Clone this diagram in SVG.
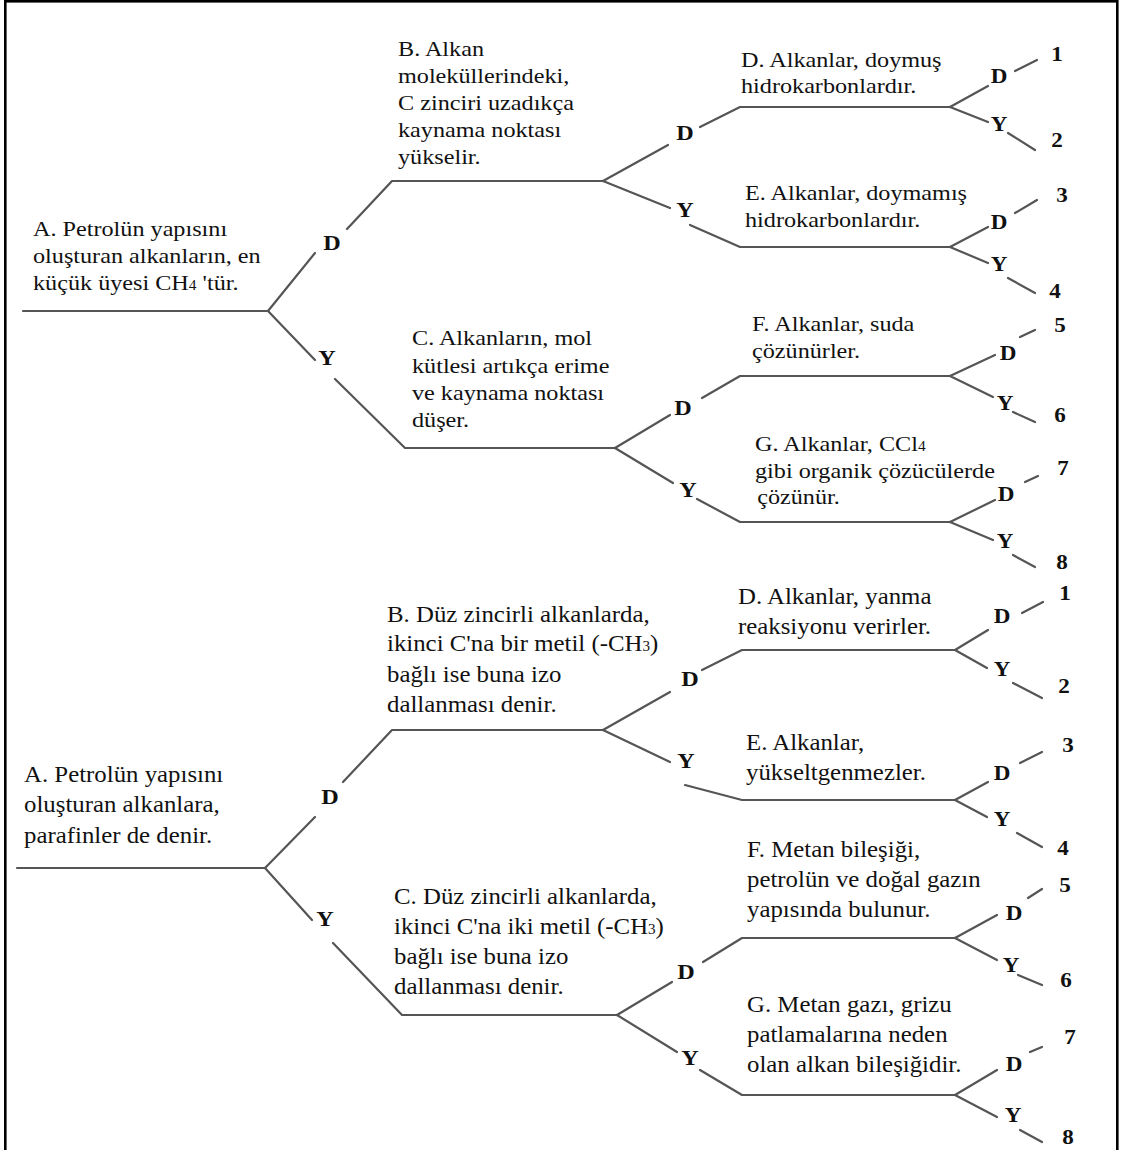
<svg xmlns="http://www.w3.org/2000/svg" width="1121" height="1150" viewBox="0 0 1121 1150">
  <style>
    .frame { fill: none; stroke: #000; stroke-width: 2.6; }
    .ln { fill: none; stroke: #555; stroke-width: 2.2; stroke-linecap: round; stroke-linejoin: round; }
    .t { font-family: "Liberation Serif", "Times New Roman", serif; font-size: 22px; fill: #111; }
    .tb { font-family: "Liberation Serif", "Times New Roman", serif; font-size: 23px; fill: #111; }
    .sub { font-size: 14px; }
    .lb { font-family: "Liberation Serif", "Times New Roman", serif; font-size: 22px; font-weight: bold; fill: #111; text-anchor: middle; }
  </style>

  <rect class="frame" x="5.3" y="1.3" width="1112" height="1170"/>

  <!-- connectors -->
  <g id="connectors" class="ln">
    <!-- upper tree -->
    <path d="M23 311 H268"/>
    <path d="M268 311 L315 253 M347 229 L392 181 H603"/>
    <path d="M268 311 L315 360 M335 379 L405 448 H615"/>
    <path d="M603 181 L668 145 M700 127 L740 107 H950"/>
    <path d="M603 181 L670 208 M690 225 L740 247 H950"/>
    <path d="M615 448 L670 415 M702 398 L740 376 H950"/>
    <path d="M615 448 L673 483 M697 499 L740 522 H950"/>
    <path d="M950 107 L988 86 M1015 71 L1037 60 M950 107 L988 122 M1008 133 L1035 150"/>
    <path d="M950 247 L988 227 M1015 213 L1037 200 M950 247 L988 263 M1008 278 L1035 293"/>
    <path d="M950 376 L995 355 M1020 337 L1035 330 M950 376 L993 397 M1013 412 L1035 422"/>
    <path d="M950 522 L995 500 M1025 482 L1038 476 M950 522 L993 540 M1013 555 L1035 567"/>
    <!-- lower tree -->
    <path d="M17 868 H265"/>
    <path d="M265 868 L315 817 M343 782 L392 730 H603"/>
    <path d="M265 868 L312 920 M333 943 L402 1015 H617"/>
    <path d="M603 730 L670 692 M702 670 L742 650 H955"/>
    <path d="M603 730 L670 762 M685 785 L742 800 H955"/>
    <path d="M617 1015 L672 982 M703 962 L742 938 H955"/>
    <path d="M617 1015 L677 1052 M700 1070 L742 1095 H955"/>
    <path d="M955 650 L988 630 M1022 613 L1043 602 M955 650 L987 668 M1013 683 L1042 698"/>
    <path d="M955 800 L988 782 M1020 763 L1042 752 M955 800 L987 817 M1017 833 L1042 847"/>
    <path d="M955 938 L997 915 M1028 898 L1042 889 M955 938 L997 960 M1018 975 L1042 985"/>
    <path d="M955 1095 L997 1070 M1030 1052 L1042 1047 M955 1095 L997 1117 M1020 1130 L1042 1142"/>
  </g>

  <!-- upper tree statements -->
  <g id="u-A" transform="translate(33 0) scale(1.1 1)">
    <text class="t"><tspan x="0" y="236">A. Petrolün yapısını</tspan><tspan x="0" y="263">oluşturan alkanların, en</tspan><tspan x="0" y="290">küçük üyesi CH<tspan class="sub">4</tspan> 'tür.</tspan></text>
  </g>
  <g id="u-B" transform="translate(398 0) scale(1.1 1)">
    <text class="t"><tspan x="0" y="56">B. Alkan</tspan><tspan x="0" y="83">moleküllerindeki,</tspan><tspan x="0" y="110">C zinciri uzadıkça</tspan><tspan x="0" y="137">kaynama noktası</tspan><tspan x="0" y="164">yükselir.</tspan></text>
  </g>
  <g id="u-C" transform="translate(412 0) scale(1.1 1)">
    <text class="t"><tspan x="0" y="345">C. Alkanların, mol</tspan><tspan x="0" y="373">kütlesi artıkça erime</tspan><tspan x="0" y="400">ve kaynama noktası</tspan><tspan x="0" y="427">düşer.</tspan></text>
  </g>
  <g id="u-D" transform="translate(741 0) scale(1.1 1)">
    <text class="t"><tspan x="0" y="67">D. Alkanlar, doymuş</tspan><tspan x="0" y="93">hidrokarbonlardır.</tspan></text>
  </g>
  <g id="u-E" transform="translate(745 0) scale(1.1 1)">
    <text class="t"><tspan x="0" y="200">E. Alkanlar, doymamış</tspan><tspan x="0" y="227">hidrokarbonlardır.</tspan></text>
  </g>
  <g id="u-F" transform="translate(752 0) scale(1.1 1)">
    <text class="t"><tspan x="0" y="331">F. Alkanlar, suda</tspan><tspan x="0" y="358">çözünürler.</tspan></text>
  </g>
  <g id="u-G" transform="translate(755 0) scale(1.1 1)">
    <text class="t"><tspan x="0" y="451">G. Alkanlar, CCl<tspan class="sub">4</tspan></tspan><tspan x="0" y="478">gibi organik çözücülerde</tspan><tspan x="2" y="504">çözünür.</tspan></text>
  </g>

  <!-- lower tree statements -->
  <g id="l-A" transform="translate(24 0) scale(1.08 1)">
    <text class="tb"><tspan x="0" y="782">A. Petrolün yapısını</tspan><tspan x="0" y="812">oluşturan alkanlara,</tspan><tspan x="0" y="843">parafinler de denir.</tspan></text>
  </g>
  <g id="l-B" transform="translate(387 0) scale(1.08 1)">
    <text class="tb"><tspan x="0" y="622">B. Düz zincirli alkanlarda,</tspan><tspan x="0" y="651">ikinci C'na bir metil (-CH<tspan class="sub">3</tspan>)</tspan><tspan x="0" y="682">bağlı ise buna izo</tspan><tspan x="0" y="712">dallanması denir.</tspan></text>
  </g>
  <g id="l-C" transform="translate(394 0) scale(1.08 1)">
    <text class="tb"><tspan x="0" y="904">C. Düz zincirli alkanlarda,</tspan><tspan x="0" y="934">ikinci C'na iki metil (-CH<tspan class="sub">3</tspan>)</tspan><tspan x="0" y="964">bağlı ise buna izo</tspan><tspan x="0" y="994">dallanması denir.</tspan></text>
  </g>
  <g id="l-D" transform="translate(738 0) scale(1.08 1)">
    <text class="tb"><tspan x="0" y="604">D. Alkanlar, yanma</tspan><tspan x="0" y="634">reaksiyonu verirler.</tspan></text>
  </g>
  <g id="l-E" transform="translate(746 0) scale(1.08 1)">
    <text class="tb"><tspan x="0" y="750">E. Alkanlar,</tspan><tspan x="0" y="780">yükseltgenmezler.</tspan></text>
  </g>
  <g id="l-F" transform="translate(747 0) scale(1.08 1)">
    <text class="tb"><tspan x="0" y="857">F. Metan bileşiği,</tspan><tspan x="0" y="887">petrolün ve doğal gazın</tspan><tspan x="0" y="917">yapısında bulunur.</tspan></text>
  </g>
  <g id="l-G" transform="translate(747 0) scale(1.08 1)">
    <text class="tb"><tspan x="0" y="1012">G. Metan gazı, grizu</tspan><tspan x="0" y="1042">patlamalarına neden</tspan><tspan x="0" y="1072">olan alkan bileşiğidir.</tspan></text>
  </g>

  <!-- branch answers (D = doğru, Y = yanlış) and outcome numbers -->
  <g id="labels">
    <text class="lb" transform="translate(332 250) scale(1.1 1)">D</text>
    <text class="lb" transform="translate(327 365) scale(1.1 1)">Y</text>
    <text class="lb" transform="translate(685 140) scale(1.1 1)">D</text>
    <text class="lb" transform="translate(685 217) scale(1.1 1)">Y</text>
    <text class="lb" transform="translate(683 415) scale(1.1 1)">D</text>
    <text class="lb" transform="translate(688 497) scale(1.1 1)">Y</text>

    <text class="lb" transform="translate(999 83) scale(1.05 1)">D</text>
    <text class="lb" transform="translate(1057 61) scale(1.05 1)">1</text>
    <text class="lb" transform="translate(999 131) scale(1.05 1)">Y</text>
    <text class="lb" transform="translate(1057 147) scale(1.05 1)">2</text>
    <text class="lb" transform="translate(999 229) scale(1.05 1)">D</text>
    <text class="lb" transform="translate(1062 202) scale(1.05 1)">3</text>
    <text class="lb" transform="translate(999 271) scale(1.05 1)">Y</text>
    <text class="lb" transform="translate(1055 298) scale(1.05 1)">4</text>
    <text class="lb" transform="translate(1008 360) scale(1.05 1)">D</text>
    <text class="lb" transform="translate(1060 332) scale(1.05 1)">5</text>
    <text class="lb" transform="translate(1005 410) scale(1.05 1)">Y</text>
    <text class="lb" transform="translate(1060 422) scale(1.05 1)">6</text>
    <text class="lb" transform="translate(1006 501) scale(1.05 1)">D</text>
    <text class="lb" transform="translate(1063 475) scale(1.05 1)">7</text>
    <text class="lb" transform="translate(1005 548) scale(1.05 1)">Y</text>
    <text class="lb" transform="translate(1062 569) scale(1.05 1)">8</text>

    <text class="lb" transform="translate(330 804) scale(1.1 1)">D</text>
    <text class="lb" transform="translate(325 926) scale(1.1 1)">Y</text>
    <text class="lb" transform="translate(690 686) scale(1.1 1)">D</text>
    <text class="lb" transform="translate(686 768) scale(1.1 1)">Y</text>
    <text class="lb" transform="translate(686 979) scale(1.1 1)">D</text>
    <text class="lb" transform="translate(690 1065) scale(1.1 1)">Y</text>

    <text class="lb" transform="translate(1002 623) scale(1.05 1)">D</text>
    <text class="lb" transform="translate(1065 600) scale(1.05 1)">1</text>
    <text class="lb" transform="translate(1002 676) scale(1.05 1)">Y</text>
    <text class="lb" transform="translate(1064 693) scale(1.05 1)">2</text>
    <text class="lb" transform="translate(1002 780) scale(1.05 1)">D</text>
    <text class="lb" transform="translate(1068 752) scale(1.05 1)">3</text>
    <text class="lb" transform="translate(1002 826) scale(1.05 1)">Y</text>
    <text class="lb" transform="translate(1063 855) scale(1.05 1)">4</text>
    <text class="lb" transform="translate(1014 920) scale(1.05 1)">D</text>
    <text class="lb" transform="translate(1065 892) scale(1.05 1)">5</text>
    <text class="lb" transform="translate(1011 972) scale(1.05 1)">Y</text>
    <text class="lb" transform="translate(1066 987) scale(1.05 1)">6</text>
    <text class="lb" transform="translate(1014 1071) scale(1.05 1)">D</text>
    <text class="lb" transform="translate(1070 1044) scale(1.05 1)">7</text>
    <text class="lb" transform="translate(1013 1122) scale(1.05 1)">Y</text>
    <text class="lb" transform="translate(1068 1144) scale(1.05 1)">8</text>
  </g>
</svg>
